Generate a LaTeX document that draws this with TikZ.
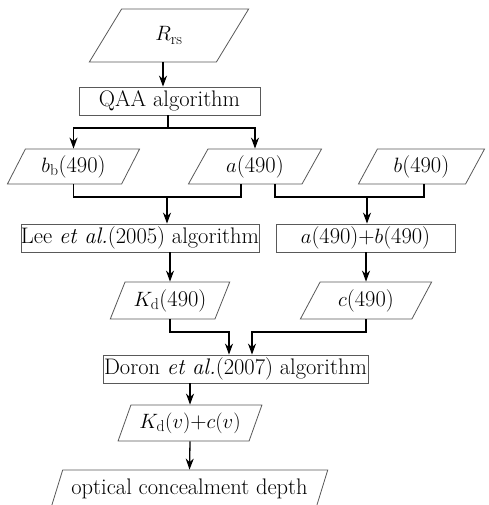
\documentclass[tikz,border=0pt]{standalone}
\usepackage{fontspec}
\usetikzlibrary{shapes.geometric,arrows.meta,calc}
\begin{document}
\begin{tikzpicture}[x=1pt,y=-1pt,
  every node/.style={font=\fontsize{22.5}{26}\selectfont, inner sep=0pt},
  procbox/.style={draw=black!65, line width=0.8pt, fill=white, rectangle},
  databox/.style={draw=black!65, line width=0.8pt, fill=white, trapezium,
    trapezium left angle=62, trapezium right angle=118, trapezium stretches=true},
  conn/.style={line width=1.3pt, black},
  arr/.style={conn, -{Stealth[length=11pt,width=8pt,inset=3.5pt]}}
]
\useasboundingbox (0,0) rectangle (488,505);

\node[databox, minimum width=160pt, minimum height=53pt] (rrs) at (169,35.5) {$R_{\mathrm{rs}}$};
\node[procbox, minimum width=181pt, minimum height=28pt] (qaa) at (169.5,101) {QAA algorithm};
\node[databox, minimum width=133pt, minimum height=35pt] (bb) at (73.5,166.5) {$b_{\mathrm{b}}$(490)};
\node[databox, minimum width=134pt, minimum height=35pt] (a) at (255,166.5) {$a$(490)};
\node[databox, minimum width=127pt, minimum height=35pt] (b) at (421.5,166.5) {$b$(490)};
\node[procbox, minimum width=236pt, minimum height=28pt] (lee) at (140,238) {Lee \textit{et al.}(2005) algorithm};
\node[procbox, minimum width=179pt, minimum height=28pt] (ab) at (365.5,238) {$a$(490)+$b$(490)};
\node[databox, minimum width=120pt, minimum height=37pt] (kd) at (170,300.5) {$K_{\mathrm{d}}$(490)};
\node[databox, minimum width=132pt, minimum height=37pt] (c) at (366,300.5) {$c$(490)};
\node[procbox, minimum width=265pt, minimum height=28pt] (doron) at (235.5,369) {Doron \textit{et al.}(2007) algorithm};
\node[databox, minimum width=144pt, minimum height=36pt] (kv) at (190,423) {$K_{\mathrm{d}}(v)$+$c(v)$};
\node[databox, minimum width=277pt, minimum height=37pt] (opt) at (189.5,488.5) {optical concealment depth};

\coordinate (j1) at (168,128);
\coordinate (m1) at (167,197);
\coordinate (m1b) at (367,197);
\coordinate (m2) at (229,332);
\coordinate (m3) at (252,332);

\draw[arr] ([xshift=-6pt]rrs.south) -- ([xshift=-6pt]rrs.south |- qaa.north);
\draw[conn] (j1 |- qaa.south) -- (j1);
\draw[arr] (j1) -| (bb.north);
\draw[arr] (j1) -| (a.north);

\draw[conn] (bb.south) |- (m1) -| ([xshift=-14pt]a.south);
\draw[arr] (m1) -- (m1 |- lee.north);
\draw[conn] ([xshift=20pt]a.south) |- (m1b) -| ([xshift=2.5pt]b.south);
\draw[arr] (m1b) -- (m1b |- ab.north);

\draw[arr] (kd.north |- lee.south) -- (kd.north);
\draw[arr] (c.north |- ab.south) -- (c.north);

\draw[arr] (kd.south) |- (m2) -- (m2 |- doron.north);
\draw[arr] (c.south) |- (m3) -- (m3 |- doron.north);

\draw[arr] (kv.north |- doron.south) -- (kv.north);
\draw[arr] (kv.south) -- (opt.north);
\end{tikzpicture}
\end{document}
